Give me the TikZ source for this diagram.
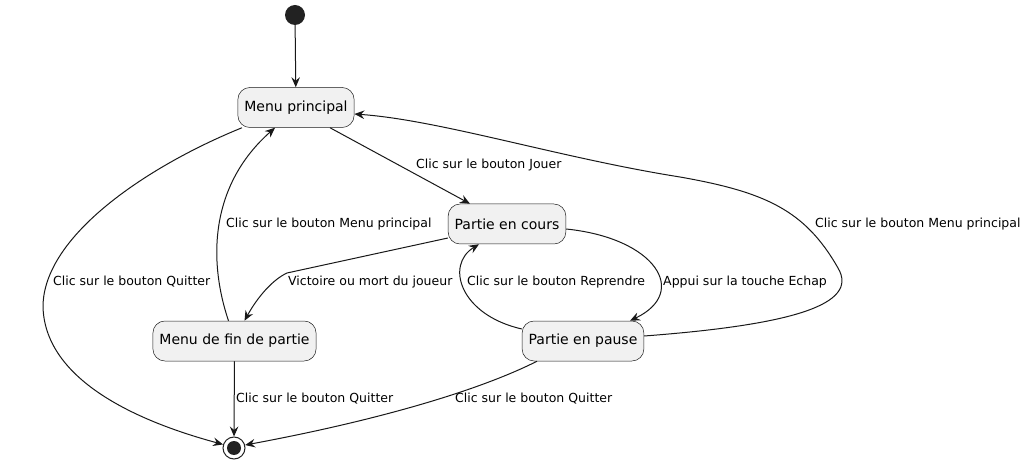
\documentclass[tikz,border=0pt]{standalone}
\usepackage{fontspec}
\setmainfont{DejaVu Sans}
\usetikzlibrary{arrows.meta}
\definecolor{ink}{HTML}{181818}
\definecolor{boxfill}{HTML}{F1F1F1}
\definecolor{dot}{HTML}{222222}
\tikzset{
  statebox/.style={draw=ink, line width=0.5pt, fill=boxfill, rounded corners=12pt,
    minimum height=40pt, inner xsep=6.5pt, font=\fontsize{14}{16}\selectfont},
  lbl/.style={anchor=west, inner sep=0pt, font=\fontsize{12.5}{15}\selectfont, text=black},
  conn/.style={draw=ink, line width=1pt, -{Stealth[length=10pt,width=8.5pt,inset=3.5pt]}},
  startdot/.style={circle, fill=dot, minimum size=20pt, inner sep=0pt},
  enddot/.style={circle, draw=dot, line width=1pt, fill=white, minimum size=22pt, inner sep=0pt},
}
\begin{document}
\begin{tikzpicture}[x=1pt,y=-1pt]
\path[use as bounding box] (0,0) rectangle (1026,465);
% nodes
\node[startdot] (start) at (295,15) {};
\node[statebox] (mp) at (296,107.5) {Menu principal};
\node[statebox] (pc) at (507,224) {Partie en cours};
\node[statebox] (fin) at (234.5,341) {Menu de fin de partie};
\node[statebox] (pause) at (583,341) {Partie en pause};
\node[enddot] (end) at (234,448) {};
\fill[dot] (end.center) circle (7pt);
% labels
\node[lbl] (l1) at (416,165) {Clic sur le bouton Jouer};
\node[lbl] (l2) at (226,224) {Clic sur le bouton Menu principal};
\node[lbl] (l3) at (53,282) {Clic sur le bouton Quitter};
\node[lbl] (l4) at (288,282) {Victoire ou mort du joueur};
\node[lbl] (l5) at (467,282) {Clic sur le bouton Reprendre};
\node[lbl] (l6) at (663,282) {Appui sur la touche Echap};
\node[lbl] (l7) at (815,224) {Clic sur le bouton Menu principal};
\node[lbl] (l8) at (236,399) {Clic sur le bouton Quitter};
\node[lbl] (l9) at (455,399) {Clic sur le bouton Quitter};
% connectors
\draw[conn] (start) -- (mp);
\draw[conn] ([xshift=34pt]mp.south) -- ([xshift=-37pt]pc.north);
\draw[conn] ([xshift=-54pt]mp.south) .. controls (150,165) and (43,235) .. (43,307)
   .. controls (45,375) and (125,418) .. (end.162);
\draw[conn] ([xshift=-6pt]fin.north) .. controls (208,260) and (210,185) .. ([xshift=-21pt]mp.south);
\draw[conn] ([yshift=-14pt]pc.west) -- (287,273) .. controls (272,280) and (257,298) .. ([xshift=10pt]fin.north);
\draw[conn] ([yshift=-5pt]pc.east) .. controls (655,238) and (690,292) .. ([xshift=47pt]pause.north);
\draw[conn] ([yshift=12pt]pause.west) .. controls (460,315) and (445,265) .. ([xshift=-28pt]pc.south);
\draw[conn] ([yshift=5pt]pause.east) .. controls (790,325) and (860,305) .. (838,268)
   .. controls (805,210) and (765,192) .. (680,177)
   .. controls (560,158) and (440,120) .. ([yshift=-6.5pt]mp.east);
\draw[conn] (fin) -- (end);
\draw[conn] ([xshift=-46pt]pause.south) .. controls (480,390) and (380,420) .. (end.15);
\end{tikzpicture}
\end{document}
